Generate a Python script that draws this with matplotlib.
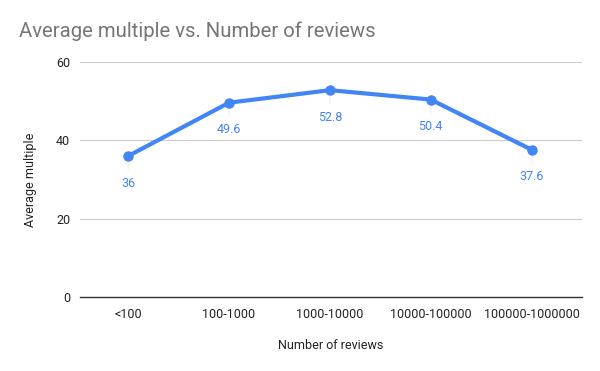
import matplotlib
matplotlib.use('Agg')
import matplotlib.pyplot as plt

plt.rcParams['font.family'] = ['Roboto', 'DejaVu Sans']

# Data
categories = ['<100', '100-1000', '1000-10000', '10000-100000', '100000-1000000']
avg_multiple = [36, 49.6, 52.8, 50.4, 37.6]
point_labels = ['36', '49.6', '52.8', '50.4', '37.6']
y_ticks = [0, 20, 40, 60]

blue = '#4285F4'

fig = plt.figure(figsize=(6, 3.71), dpi=100)
ax = fig.add_axes([0.133, 0.1995, 0.837, 0.6335])

x = list(range(len(categories)))
ax.plot(x, avg_multiple, color=blue, linewidth=3, marker='o', markersize=6.5,
        solid_capstyle='round', zorder=3)

for xi, yi, lab in zip(x, avg_multiple, point_labels):
    # faint leader line from point to label
    ax.annotate(lab, xy=(xi, yi), xytext=(0, -19.5), textcoords='offset points',
                ha='center', va='center', fontsize=9, color=blue,
                arrowprops=dict(arrowstyle='-', color='#ececec', lw=0.8,
                                shrinkA=3, shrinkB=5))

ax.set_xlim(-0.48, 4.5)
ax.set_ylim(0, 60)
ax.set_yticks(y_ticks)
ax.set_xticks(x)
ax.set_xticklabels(categories)
ax.tick_params(axis='both', length=0, labelsize=9, colors='#222222')
ax.tick_params(axis='x', pad=8)
ax.tick_params(axis='y', pad=7)

ax.grid(axis='y', color='#cccccc', linewidth=0.8)
ax.set_axisbelow(True)
for side in ['top', 'right', 'left']:
    ax.spines[side].set_visible(False)
ax.spines['bottom'].set_color('#333333')
ax.spines['bottom'].set_linewidth(1)

ax.set_xlabel('Number of reviews', fontsize=9, color='#222222', labelpad=13)
ax.set_ylabel('Average multiple', fontsize=9, color='#222222', labelpad=14)

fig.text(0.032, 0.915, 'Average multiple vs. Number of reviews', fontsize=14.6,
         color='#757575', ha='left', va='center')

fig.savefig('out.png', dpi=100)
